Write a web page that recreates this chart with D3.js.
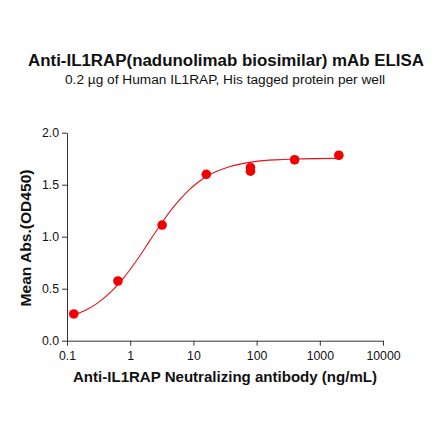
<!DOCTYPE html>
<html><head><meta charset="utf-8">
<script src="https://cdn.jsdelivr.net/npm/d3@7"></script>
<style>body{margin:0;background:#fff}svg{display:block}text{font-family:"Liberation Sans",Arial,sans-serif}</style>
</head><body>
<script>
const concentrations = [0.128, 0.64, 3.2, 16, 80, 80, 400, 2000];
const od450 = [0.257, 0.574, 1.112, 1.60, 1.665, 1.63, 1.74, 1.783];
const curveX = [0.128, 0.2, 0.3, 0.5, 0.8, 1.2, 2, 3, 5, 8, 12, 20, 35, 60, 100, 200, 400, 800, 2000];
const curveY = [0.247, 0.296, 0.359, 0.471, 0.609, 0.752, 0.953, 1.113, 1.296, 1.434, 1.526, 1.609, 1.668, 1.703, 1.724, 1.739, 1.747, 1.751, 1.753];
const xTicks = [0.1, 1, 10, 100, 1000, 10000];
const yTicks = [0.0, 0.5, 1.0, 1.5, 2.0];
const title = "Anti-IL1RAP(nadunolimab biosimilar) mAb ELISA";
const subtitle = "0.2 \u00b5g of Human IL1RAP, His tagged protein per well";
const xLabel = "Anti-IL1RAP Neutralizing antibody (ng/mL)";
const yLabel = "Mean Abs.(OD450)";

const W = 440, H = 441;
const svg = d3.select("body").append("svg").attr("width", W).attr("height", H);
const x = d3.scaleLog().domain([0.1, 10000]).range([67, 383]);
const y = d3.scaleLinear().domain([0, 2]).range([340.7, 132.7]);

svg.append("text").attr("x", 226).attr("y", 66).attr("text-anchor", "middle")
  .attr("font-size", 16).attr("font-weight", "bold").attr("fill", "#111")
  .attr("textLength", 396).attr("lengthAdjust", "spacingAndGlyphs").text(title);
svg.append("text").attr("x", 225).attr("y", 83.5).attr("text-anchor", "middle")
  .attr("font-size", 12).attr("fill", "#111")
  .attr("textLength", 320).attr("lengthAdjust", "spacingAndGlyphs").text(subtitle);

const xAxis = svg.append("g").attr("transform", `translate(0,${y(0)})`)
  .call(d3.axisBottom(x).tickValues(xTicks).tickFormat(d => String(d)).tickSize(5).tickSizeOuter(0));
const yAxis = svg.append("g").attr("transform", `translate(${x(0.1)},0)`)
  .call(d3.axisLeft(y).tickValues(yTicks).tickFormat(d3.format(".1f")).tickSize(5).tickSizeOuter(0));
[xAxis, yAxis].forEach(g => {
  g.select(".domain").attr("stroke", "#333").attr("stroke-width", 1);
  g.selectAll(".tick line").attr("stroke", "#333");
  g.selectAll(".tick text").attr("font-size", 12.3).attr("fill", "#111")
    .attr("font-family", '"Liberation Sans",Arial,sans-serif');
});
xAxis.selectAll(".tick text").attr("y", 11).attr("dy", "0.71em");

svg.append("text").attr("x", 225).attr("y", 381.5).attr("text-anchor", "middle")
  .attr("font-size", 14).attr("font-weight", "bold").attr("fill", "#111")
  .attr("textLength", 304).attr("lengthAdjust", "spacingAndGlyphs").text(xLabel);
svg.append("text").attr("transform", "translate(30.5,238) rotate(-90)").attr("text-anchor", "middle")
  .attr("font-size", 14).attr("font-weight", "bold").attr("fill", "#111")
  .attr("textLength", 137).attr("lengthAdjust", "spacingAndGlyphs").text(yLabel);

const line = d3.line().x(d => x(d[0])).y(d => y(d[1])).curve(d3.curveMonotoneX);
svg.append("path").datum(d3.zip(curveX, curveY)).attr("d", line)
  .attr("fill", "none").attr("stroke", "#e8101a").attr("stroke-width", 1.1);

svg.selectAll("circle.pt").data(d3.zip(concentrations, od450)).enter().append("circle")
  .attr("class", "pt").attr("cx", d => x(d[0])).attr("cy", d => y(d[1])).attr("r", 4.8)
  .attr("fill", "#f00000");
</script>
</body></html>
